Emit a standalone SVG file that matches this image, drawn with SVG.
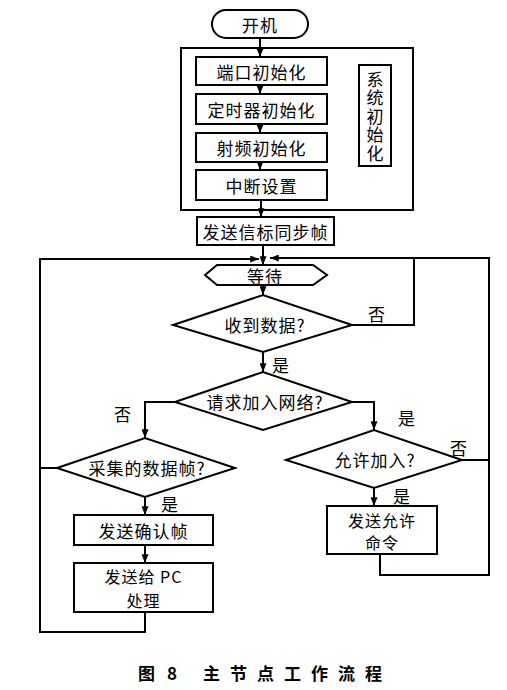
<svg xmlns="http://www.w3.org/2000/svg" width="507" height="690" viewBox="0 0 507 690">
<style>
.s{fill:#fff;stroke:#000;stroke-width:2}
.t{font-family:"Noto Sans CJK SC","Liberation Serif",serif;font-size:17px;fill:#000;text-anchor:middle;dominant-baseline:central;letter-spacing:1px}
.m{font-size:16px}
.c{fill:none;stroke:#000;stroke-width:2}
.cap{font-family:"Noto Sans CJK SC",sans-serif;font-size:17px;font-weight:bold;fill:#000;dominant-baseline:central}
</style>
<defs>
<marker id="a" viewBox="0 0 10 8" refX="10" refY="4" markerWidth="9" markerHeight="7" markerUnits="userSpaceOnUse" orient="auto"><path d="M0,0 L10,4 L0,8 Z" fill="#000"/></marker>
</defs>
<rect width="507" height="690" fill="#fff"/>
<g id="sysbox"><rect class="s" x="181" y="48" width="232" height="162"/></g>
<g id="start"><rect class="s" x="212" y="10" width="96" height="28" rx="14"/><text class="t" x="260" y="24">开机</text></g>
<g id="port"><rect class="s" x="196" y="57" width="131" height="28"/><text class="t" x="261.5" y="71">端口初始化</text></g>
<g id="timer"><rect class="s" x="196" y="94" width="131" height="30"/><text class="t" x="261.5" y="109">定时器初始化</text></g>
<g id="rf"><rect class="s" x="196" y="133" width="131" height="29"/><text class="t" x="261.5" y="147.5">射频初始化</text></g>
<g id="irq"><rect class="s" x="196" y="170" width="131" height="30"/><text class="t" x="261.5" y="185">中断设置</text></g>
<g id="syslabel"><rect class="s" x="359" y="65" width="32" height="101"/>
<text x="375" y="71" style="font-family:'Noto Sans CJK SC',serif;font-size:17px;writing-mode:vertical-rl;letter-spacing:1.5px;fill:#000">系统初始化</text></g>
<g id="beacon"><rect class="s" x="197" y="217" width="137" height="28"/><text class="t" x="265.5" y="231">发送信标同步帧</text></g>
<g id="wait"><polygon class="s" points="205,275 217,265 313,265 327,275 313,285 217,285"/><text class="t" x="265" y="275">等待</text></g>
<g id="recv"><polygon class="s" points="173,325 263,295 352,325 263,352"/><text class="t" x="265" y="324">收到数据?</text></g>
<g id="join"><polygon class="s" points="175,402 263,372 352,402 263,430"/><text class="t" x="265" y="401">请求加入网络?</text></g>
<g id="collect"><polygon class="s" points="57,468 145,438 235,468 145,497"/><text class="t" x="147" y="467">采集的数据帧?</text></g>
<g id="allow"><polygon class="s" points="286,460 374,430 462,460 374,488"/><text class="t" x="375" y="459">允许加入?</text></g>
<g id="ack"><rect class="s" x="74" y="515" width="139" height="30"/><text class="t" x="143.5" y="530">发送确认帧</text></g>
<g id="topc"><rect class="s" x="74" y="563" width="139" height="49"/><text class="t m" x="143.5" y="576">发送给 PC<tspan x="143.5" dy="23.5">处理</tspan></text></g>
<g id="permit"><rect class="s" x="327" y="506" width="110" height="48"/><text class="t m" x="382" y="520">发送允许<tspan x="382" dy="22">命令</tspan></text></g>
<g id="connectors">
<line class="c" x1="260" y1="38" x2="260" y2="57" marker-end="url(#a)"/>
<line class="c" x1="260" y1="85" x2="260" y2="94" marker-end="url(#a)"/>
<line class="c" x1="260" y1="124" x2="260" y2="133" marker-end="url(#a)"/>
<line class="c" x1="260" y1="162" x2="260" y2="170" marker-end="url(#a)"/>
<line class="c" x1="261" y1="200" x2="261" y2="217" marker-end="url(#a)"/>
<line class="c" x1="263" y1="245" x2="263" y2="265" marker-end="url(#a)"/>
<line class="c" x1="263" y1="285" x2="263" y2="295" marker-end="url(#a)"/>
<line class="c" x1="263" y1="352" x2="263" y2="372" marker-end="url(#a)"/>
<polyline class="c" points="145,612 145,632 40,632 40,259 259,259" marker-end="url(#a)"/>
<polyline class="c" points="380,554 380,575 489,575 489,258 270,258" marker-end="url(#a)"/>
<polyline class="c" points="352,325 414,325 414,258"/>
<polyline class="c" points="175,402 145,402 145,438" marker-end="url(#a)"/>
<polyline class="c" points="352,402 374,402 374,430" marker-end="url(#a)"/>
<line class="c" x1="462" y1="460" x2="489" y2="460"/>
<line class="c" x1="57" y1="468" x2="40" y2="468"/>
<line class="c" x1="374" y1="488" x2="374" y2="506" marker-end="url(#a)"/>
<line class="c" x1="145" y1="497" x2="145" y2="515" marker-end="url(#a)"/>
<line class="c" x1="145" y1="545" x2="145" y2="563" marker-end="url(#a)"/>
</g>
<g id="labels">
<text class="t" x="377" y="313">否</text>
<text class="t" x="281" y="364">是</text>
<text class="t" x="123" y="413">否</text>
<text class="t" x="407" y="417">是</text>
<text class="t" x="459" y="447">否</text>
<text class="t" x="402" y="495">是</text>
<text class="t" x="170" y="503">是</text>
</g>
<g id="caption">
<text class="cap" x="138" y="672">图</text>
<text class="cap" x="167" y="672">8</text>
<text class="cap" x="203" y="672" letter-spacing="10">主节点工作流程</text>
</g>
</svg>
